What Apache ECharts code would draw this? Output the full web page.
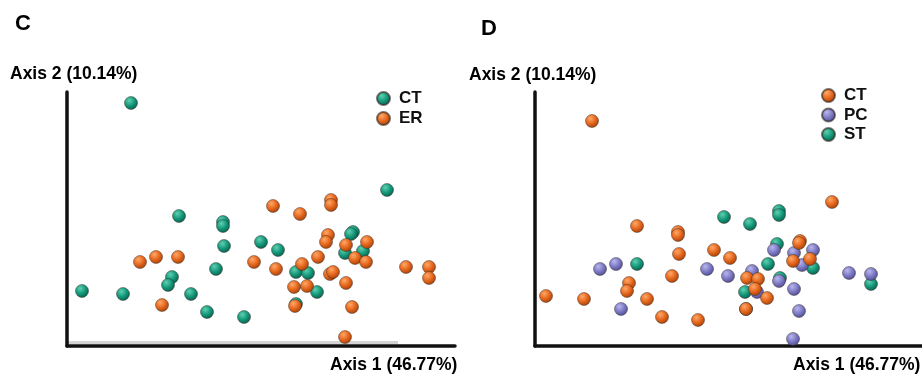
<!DOCTYPE html>
<html><head><meta charset="utf-8">
<script src="https://cdn.jsdelivr.net/npm/echarts@6/dist/echarts.min.js"></script>
<style>html,body{margin:0;padding:0;background:#fff}#c{width:922px;height:377px}</style>
</head><body><div id="c"></div>
<script>
// Panel C (Axis 1 / Axis 2 scores, arbitrary units)
const panelC_CT = [[64,242],[112,129],[156,123],[156,119],[157,99],[194,103],[211,95],[149,76],[105,68],[101,60],[15,54],[56,51],[124,51],[140,33],[177,28],[320,155],[286,113],[284,111],[278,92],[296,94],[229,73],[241,72],[250,53],[229,41]];
const panelC_ER = [[73,83],[89,88],[111,88],[95,40],[187,83],[206,139],[233,131],[264,145],[264,140],[261,110],[259,103],[300,103],[279,100],[288,87],[299,83],[251,88],[209,76],[235,81],[263,71],[266,73],[339,78],[362,78],[362,67],[227,58],[240,59],[279,62],[228,39],[285,38],[278,8]];
// Panel D
const panelD_CT = [[57,224],[102,119],[143,113],[143,110],[144,91],[179,95],[195,87],[137,69],[94,62],[92,54],[11,49],[49,46],[112,46],[127,28],[163,25],[297,143],[265,104],[264,102],[258,84],[275,86],[212,67],[223,66],[220,56],[232,47],[211,36]];
const panelD_PC = [[65,76],[81,81],[172,76],[193,69],[86,36],[239,95],[278,95],[259,92],[267,80],[217,74],[314,72],[336,71],[244,64],[222,53],[259,56],[264,34],[258,6]];
const panelD_ST = [[102,81],[189,128],[215,121],[244,134],[244,130],[242,101],[278,77],[233,81],[336,61],[245,67],[210,53],[211,36]];
const legendC = ['CT','ER'];
const legendD = ['CT','PC','ST'];
const panelLabels = ['C','D'];
const axis1Title = 'Axis 1 (46.77%)';
const axis2Title = 'Axis 2 (10.14%)';

function sphere(light, base, dark){
  return {type:'radial', x:0.38, y:0.32, r:0.7, colorStops:[
    {offset:0,color:light},{offset:0.55,color:base},{offset:1,color:dark}]};
}
const GREEN = sphere('#5fd0b0','#14977a','#0a5f4c');
const ORANGE = sphere('#ffa868','#e5661c','#a2420c');
const PURPLE = sphere('#b8b6ee','#7c79c4','#4f4c90');
const FONT = "'Liberation Sans', Arial, sans-serif";
const SUFFIX_D = ' (D)';

function ser(name, data, color, idx){
  return {name, type:'scatter', data, xAxisIndex:idx, yAxisIndex:idx, symbolSize:13,
    itemStyle:{color, borderColor:'rgba(40,30,20,0.6)', borderWidth:0.7, opacity:1}};
}
const axisCommon = {axisTick:{show:false}, axisLabel:{show:false}, splitLine:{show:false},
  axisLine:{show:true, onZero:false, lineStyle:{color:'#111', width:3.5}}};
const tstyle = (size)=>({fontFamily:FONT, fontWeight:'bold', fontSize:size, color:'#000'});
const legendText = {fontFamily:FONT, fontWeight:'bold', fontSize:17, color:'#111', padding:[0,0,0,4]};

const chart = echarts.init(document.getElementById('c'));
chart.setOption({
  animation:false,
  backgroundColor:'#fff',
  graphic:[
    {type:'rect', silent:true, z:0, shape:{x:67, y:341, width:331, height:3}, style:{fill:'#d4d4d4'}}
  ],
  title:[
    {text:panelLabels[0], left:10, top:8, textStyle:tstyle(22)},
    {text:panelLabels[1], left:476, top:13, textStyle:tstyle(22)},
    {text:axis2Title, left:5, top:60, textStyle:tstyle(17.5)},
    {text:axis2Title, left:464, top:61, textStyle:tstyle(17.5)},
    {text:axis1Title, left:325, top:351, textStyle:tstyle(17.5)},
    {text:axis1Title, left:788, top:351, textStyle:tstyle(17.5)}
  ],
  legend:[
    {data:legendC, left:371, top:85, orient:'vertical', itemWidth:13, itemHeight:13, itemGap:3, icon:'circle',
     textStyle:legendText, selectedMode:false},
    {data:legendD.map(n=>n+SUFFIX_D), left:816, top:82, orient:'vertical', itemWidth:13, itemHeight:13, itemGap:2.5, icon:'circle',
     textStyle:legendText, selectedMode:false, formatter:(n)=>n.replace(SUFFIX_D,'')}
  ],
  grid:[
    {left:67, top:92, width:388, height:254},
    {left:535, top:92, width:387, height:254}
  ],
  xAxis:[
    Object.assign({type:'value', gridIndex:0, min:0, max:388}, axisCommon),
    Object.assign({type:'value', gridIndex:1, min:0, max:387}, axisCommon)
  ],
  yAxis:[
    Object.assign({type:'value', gridIndex:0, min:-1, max:253}, axisCommon),
    Object.assign({type:'value', gridIndex:1, min:-1, max:253}, axisCommon)
  ],
  series:[
    ser(legendC[0], panelC_CT, GREEN, 0),
    ser(legendC[1], panelC_ER, ORANGE, 0),
    ser(legendD[2]+SUFFIX_D, panelD_ST, GREEN, 1),
    ser(legendD[1]+SUFFIX_D, panelD_PC, PURPLE, 1),
    ser(legendD[0]+SUFFIX_D, panelD_CT, ORANGE, 1)
  ]
});
</script></body></html>
